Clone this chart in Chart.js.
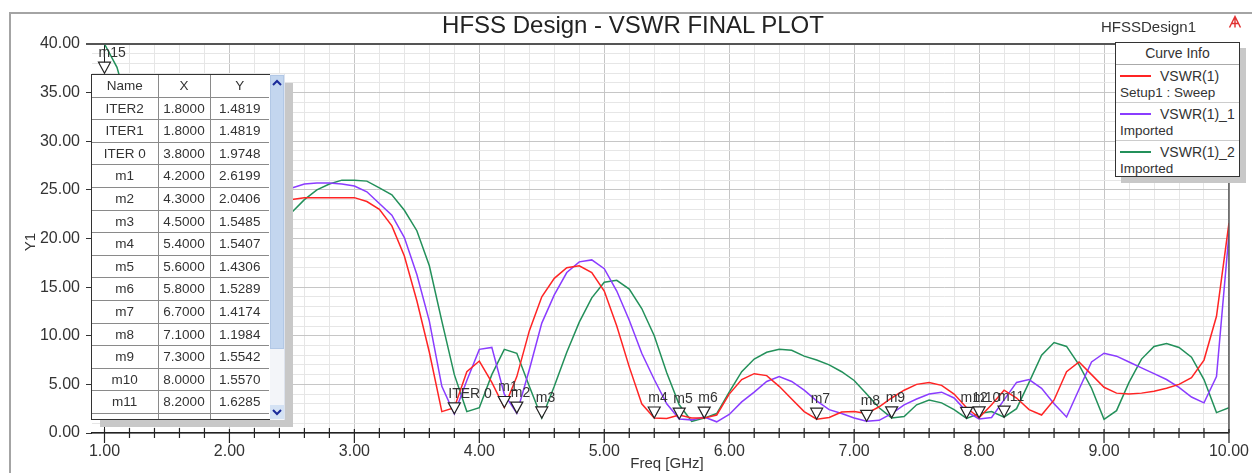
<!DOCTYPE html>
<html>
<head>
<meta charset="utf-8">
<title>HFSS Design - VSWR FINAL PLOT</title>
<script src="https://cdn.jsdelivr.net/npm/chart.js@4.4.1/dist/chart.umd.min.js"></script>
<style>
  body { margin: 0; background: #fff; font-family: "Liberation Sans", Arial, sans-serif; color: #333; }
  #wrap { position: relative; width: 1252px; height: 473px; overflow: hidden; background: #fff; }
  #frame { position: absolute; left: 9px; top: 12px; width: 1300px; height: 500px; border-left: 2px solid #a4a4a4; border-top: 2px solid #a4a4a4; }
  #vswr-chart { position: absolute; left: 0; top: 0; }
  .title { position: absolute; left: 333px; top: 11px; width: 600px; text-align: center; font-size: 24px; color: #222; }
  .design { position: absolute; left: 1101px; top: 18px; font-size: 15px; color: #333; }
  .logo { position: absolute; left: 1228px; top: 15px; }
  .ytitle { position: absolute; left: 10px; top: 232px; width: 40px; height: 20px; line-height: 20px; text-align: center; font-size: 15px; transform: rotate(-90deg); }
  .xtitle { position: absolute; left: 567px; top: 454px; width: 200px; text-align: center; font-size: 15px; }
  .shadow { position: absolute; background: #c8c8c8; }
  #table-box { position: absolute; left: 91px; top: 74px; width: 180px; height: 346px; box-sizing: border-box; border: 1.5px solid #333; background: #fff; overflow: hidden; }
  #table-box table { border-collapse: collapse; border-style: hidden; table-layout: fixed; width: 177px; font-size: 13.5px; color: #333; }
  #table-box td { border: 1px solid #8a8a8a; padding: 0; height: 21.6px; text-align: center; line-height: 1; }
  #scroll { position: absolute; left: 270px; top: 74px; width: 15px; height: 346px; background: #f3f5f9; border-right: 1px solid #dde3ee; box-sizing: border-box; }
  #thumb { position: absolute; left: 0; top: 1px; width: 14px; height: 274px; background: #c3d6ef; border: 1px solid #b2c8e6; box-sizing: border-box; }
  #down-btn { position: absolute; left: 0; bottom: 1px; width: 14px; height: 14px; background: #d4e2f4; }
  #legend-box { position: absolute; left: 1115px; top: 42px; width: 125px; height: 135px; box-sizing: border-box; border: 1.5px solid #333; background: #fff; font-size: 13.5px; color: #333; }
  .lg-head { height: 21px; line-height: 21px; text-align: center; font-size: 14px; border-bottom: 1px solid #aaa; }
  .lg-row { position: relative; height: 37px; border-bottom: 1px solid #ccc; }
  .lg-row:last-child { border-bottom: none; }
  .lg-line { position: absolute; left: 4px; top: 10px; width: 31px; height: 2px; }
  .lg-name { position: absolute; left: 44px; top: 3px; font-size: 14px; }
  .lg-sub { position: absolute; left: 4px; top: 20px; }
</style>
</head>
<body>
<div id="wrap">
  <div id="frame"></div>
  <canvas id="vswr-chart" width="1252" height="473"></canvas>
  <div class="title">HFSS Design - VSWR FINAL PLOT</div>
  <div class="design">HFSSDesign1</div>
  <svg class="logo" width="14" height="14"><path d="M1.5 12.5 L7 1.5 L12.5 12.5 M4 8.5 H10 M7 1.5 V12.5" stroke="#e03030" stroke-width="1.4" fill="none"/></svg>
  <div class="ytitle">Y1</div>
  <div class="xtitle">Freq [GHz]</div>

  <div class="shadow" style="left:100px; top:83px; width:193px; height:344px;"></div>
  <div id="table-box">
    <table>
      <colgroup><col style="width:66px"><col style="width:52px"><col style="width:59px"></colgroup>
      <tbody id="marker-rows"><tr><td>Name</td><td>X</td><td>Y</td></tr></tbody>
    </table>
  </div>
  <div id="scroll">
    <div id="thumb">
      <svg width="12" height="10" style="position:absolute;left:0;top:2px"><path d="M2 7 L6 3 L10 7" stroke="#1a2a9a" stroke-width="2" fill="none"/></svg>
    </div>
    <div id="down-btn">
      <svg width="14" height="12" style="position:absolute;left:0;top:2px"><path d="M3 3 L7 7 L11 3" stroke="#1a2a9a" stroke-width="2" fill="none"/></svg>
    </div>
  </div>

  <div class="shadow" style="left:1121px; top:48px; width:125px; height:135px;"></div>
  <div id="legend-box">
    <div class="lg-head">Curve Info</div>
    <div class="lg-row"><div class="lg-line" style="background:#ff2424"></div><div class="lg-name">VSWR(1)</div><div class="lg-sub">Setup1 : Sweep</div></div>
    <div class="lg-row"><div class="lg-line" style="background:#8a3cff"></div><div class="lg-name">VSWR(1)_1</div><div class="lg-sub">Imported</div></div>
    <div class="lg-row"><div class="lg-line" style="background:#23905a"></div><div class="lg-name">VSWR(1)_2</div><div class="lg-sub">Imported</div></div>
  </div>
</div>

<script>
const freqGHz = [
  1.0, 1.1, 1.2, 1.3, 1.4, 1.5, 1.6, 1.7, 1.8, 1.9,
  2.0, 2.1, 2.2, 2.3, 2.4, 2.5, 2.6, 2.7, 2.8, 2.9,
  3.0, 3.1, 3.2, 3.3, 3.4, 3.5, 3.6, 3.7, 3.8, 3.9,
  4.0, 4.1, 4.2, 4.3, 4.4, 4.5, 4.6, 4.7, 4.8, 4.9,
  5.0, 5.1, 5.2, 5.3, 5.4, 5.5, 5.6, 5.7, 5.8, 5.9,
  6.0, 6.1, 6.2, 6.3, 6.4, 6.5, 6.6, 6.7, 6.8, 6.9,
  7.0, 7.1, 7.2, 7.3, 7.4, 7.5, 7.6, 7.7, 7.8, 7.9,
  8.0, 8.1, 8.2, 8.3, 8.4, 8.5, 8.6, 8.7, 8.8, 8.9,
  9.0, 9.1, 9.2, 9.3, 9.4, 9.5, 9.6, 9.7, 9.8, 9.9,
  10.0
];

// VSWR(1) - Setup1 : Sweep
const vswrSetup1 = [
  18, 14, 10, 6.5, 4, 2.5, 1.8, 1.6, 1.48, 3,
  7, 12, 17, 21, 23.8, 24.0, 24.2, 24.2, 24.2, 24.2,
  24.2, 23.8, 23.0, 21.3, 18.2, 13.6, 8.3, 2.2, 2.6, 6.3,
  7.4, 5.2, 2.62, 5.8, 10.5, 14.0, 15.9, 17.0, 17.2, 16.5,
  14.6, 11.0, 6.8, 3.0, 1.54, 1.5, 1.85, 1.55, 1.53, 1.85,
  4.0, 5.5, 6.1, 5.9, 4.8, 3.5, 2.2, 1.42, 1.6, 2.15,
  2.2, 2.0, 2.7, 3.6, 4.4, 5.0, 5.2, 4.9, 4.0, 2.6,
  1.56, 2.9, 4.4, 3.6, 2.4, 1.85, 3.4, 6.3, 7.3, 6.0,
  4.7, 4.1, 4.0, 4.1, 4.3, 4.6, 5.0, 5.7, 7.5, 12.0,
  21.6
];

// VSWR(1)_1 - Imported
const vswrImported1 = [
  12, 9, 6, 4, 2.5, 1.8, 1.6, 1.5, 1.48, 4,
  9, 15, 20, 23, 24.6, 25.2, 25.6, 25.7, 25.7, 25.6,
  25.4, 24.8, 23.6, 22.4, 20.1, 16.3, 11.5, 4.8, 1.97, 5.4,
  8.6, 8.8, 4.0, 2.04, 6.5, 11.3, 14.2, 16.5, 17.6, 17.8,
  16.9, 14.6, 11.6, 8.2, 5.5, 3.0, 1.43, 1.35, 1.65, 1.15,
  1.9, 3.2, 4.2, 5.3, 5.8, 5.3, 4.4, 3.3, 2.4, 2.0,
  1.55, 1.2, 1.3, 2.0, 2.9, 3.5, 4.0, 4.2, 3.6, 2.2,
  1.45, 1.6, 3.4, 5.2, 5.5, 4.6, 3.0, 1.65, 4.5, 7.3,
  8.2, 7.9, 7.3, 6.7, 6.1, 5.5, 4.7, 3.7, 3.1, 5.8,
  20.5
];

// VSWR(1)_2 - Imported
const vswrImported2 = [
  40.0, 37.6, 33, 27, 20, 13, 7, 3.5, 2.2, 4.5,
  9, 13.5, 17, 19.3, 20.8, 22.7, 24.0, 25.0, 25.6, 26.0,
  26.0, 25.9, 25.2, 24.5, 22.9, 20.8, 17.2, 11.5, 6.0, 2.2,
  2.6, 6.0, 8.6, 8.2, 4.8, 1.55, 4.8, 8.3, 11.4, 13.9,
  15.5, 15.7, 14.8, 12.8, 10.0, 6.2, 2.9, 1.2, 1.53, 2.0,
  4.2, 6.3, 7.6, 8.3, 8.6, 8.5, 7.9, 7.5, 7.0, 6.3,
  5.4, 4.0, 2.6, 1.55, 1.7, 2.9, 3.4, 3.1, 2.4, 1.5,
  2.0, 2.2, 1.63, 2.5, 5.2, 8.0, 9.3, 8.9, 7.0, 4.6,
  1.4, 2.3, 5.2, 7.6, 8.9, 9.2, 8.8, 7.8, 5.5, 2.1,
  2.6
];

const seriesNames = ["VSWR(1)", "VSWR(1)_1", "VSWR(1)_2"];
const seriesColors = ["#ff2424", "#8a3cff", "#23905a"];

const xTickLabels = ["1.00", "2.00", "3.00", "4.00", "5.00", "6.00", "7.00", "8.00", "9.00", "10.00"];
const yTickLabels = ["0.00", "5.00", "10.00", "15.00", "20.00", "25.00", "30.00", "35.00", "40.00"];

const markerNames = ["ITER2", "ITER1", "ITER 0", "m1", "m2", "m3", "m4", "m5", "m6", "m7", "m8", "m9", "m10", "m11", "m12", "m15"];
const markerX = [1.8, 1.8, 3.8, 4.2, 4.3, 4.5, 5.4, 5.6, 5.8, 6.7, 7.1, 7.3, 8.0, 8.2, 7.9, 1.0];
const markerY = [1.4819, 1.4819, 1.9748, 2.6199, 2.0406, 1.5485, 1.5407, 1.4306, 1.5289, 1.4174, 1.1984, 1.5542, 1.5570, 1.6285, 1.5100, 37.0];

Chart.defaults.font.family = '"Liberation Sans", Arial, sans-serif';

function isWhole(v, step) {
  return Math.abs(v / step - Math.round(v / step)) < 1e-6;
}

function buildMarkerTable() {
  const body = document.getElementById("marker-rows");
  markerNames.slice(0, 15).forEach((name, i) => {
    body.innerHTML += `<tr><td>${name}</td><td>${markerX[i].toFixed(4)}</td><td>${markerY[i].toFixed(4)}</td></tr>`;
  });
}

// HFSS style down-pointing markers with labels
const markerPlugin = {
  id: "hfssMarkers",
  afterDatasetsDraw(chart) {
    const { ctx, chartArea: a, scales: { x, y } } = chart;
    ctx.save();
    ctx.beginPath();
    ctx.rect(a.left, a.top, a.width, a.height);
    ctx.clip();
    ctx.font = '14px "Liberation Sans", Arial, sans-serif';
    ctx.textAlign = "left";
    ctx.textBaseline = "bottom";
    markerNames.forEach((name, i) => {
      const px = x.getPixelForValue(markerX[i]);
      const py = y.getPixelForValue(markerY[i]);
      ctx.fillStyle = "#333";
      ctx.fillText(name, px - 6, py - 13);
      ctx.beginPath();
      ctx.moveTo(px - 6, py - 11);
      ctx.lineTo(px + 6, py - 11);
      ctx.lineTo(px, py);
      ctx.closePath();
      ctx.fillStyle = "#fff";
      ctx.fill();
      ctx.strokeStyle = "#222";
      ctx.lineWidth = 1.2;
      ctx.stroke();
    });
    ctx.restore();
  },
};

// top / right frame and the ticks crossing the frequency axis
const framePlugin = {
  id: "hfssFrame",
  afterDraw(chart) {
    const { ctx, chartArea: a, scales: { x } } = chart;
    ctx.save();
    ctx.strokeStyle = "#555";
    ctx.lineWidth = 2;
    ctx.beginPath();
    ctx.moveTo(a.left - 6, a.top);
    ctx.lineTo(a.right, a.top);
    ctx.stroke();
    ctx.lineWidth = 1.5;
    ctx.beginPath();
    ctx.moveTo(a.right, a.top);
    ctx.lineTo(a.right, a.bottom);
    ctx.stroke();
    ctx.strokeStyle = "#222";
    ctx.lineWidth = 1.2;
    x.ticks.forEach((t) => {
      const px = x.getPixelForValue(t.value);
      const major = isWhole(t.value, 1);
      ctx.beginPath();
      ctx.moveTo(px, a.bottom - (major ? 4 : 5));
      ctx.lineTo(px, a.bottom + (major ? 10 : 5));
      ctx.stroke();
    });
    ctx.restore();
  },
};

function initializeChart() {
  const series = [vswrSetup1, vswrImported1, vswrImported2];
  const ctx = document.getElementById("vswr-chart").getContext("2d");
  new Chart(ctx, {
    type: "line",
    data: {
      datasets: series.map((values, i) => ({
        label: seriesNames[i],
        data: freqGHz.map((f, j) => ({ x: f, y: values[j] })),
        borderColor: seriesColors[i],
        borderWidth: 1.5,
        pointRadius: 0,
        tension: 0,
        fill: false,
      })),
    },
    options: {
      responsive: false,
      animation: false,
      layout: { padding: { top: 44, right: 23, bottom: 0, left: 0 } },
      plugins: { legend: { display: false }, tooltip: { enabled: false } },
      scales: {
        x: {
          type: "linear",
          min: 0.9,
          max: 10,
          afterBuildTicks: (scale) => {
            const ticks = [];
            for (let i = 0; i <= 45; i++) ticks.push({ value: Math.round((1 + i * 0.2) * 10) / 10 });
            scale.ticks = ticks;
          },
          afterFit: (scale) => { scale.height = 40; },
          ticks: {
            autoSkip: false,
            maxRotation: 0,
            padding: 3,
            color: "#333",
            font: { size: 16 },
            callback: (v) => (isWhole(v, 1) ? xTickLabels[Math.round(v) - 1] : ""),
          },
          grid: {
            color: (c) => {
              const v = c.tick ? c.tick.value : 0;
              if (Math.abs(v - 1) < 1e-6) return "#1e1e1e";
              return isWhole(v, 1) ? "#c6c6c6" : "#e6e6e6";
            },
            lineWidth: 1,
            tickLength: 6,
            tickColor: "rgba(0,0,0,0)",
          },
          border: { display: true, color: "#222", width: 1.5 },
        },
        y: {
          min: 0,
          max: 40,
          afterBuildTicks: (scale) => {
            const ticks = [];
            for (let v = 0; v <= 40; v++) ticks.push({ value: v });
            scale.ticks = ticks;
          },
          afterFit: (scale) => { scale.width = 92; },
          ticks: {
            autoSkip: false,
            padding: 6,
            color: "#333",
            font: { size: 16 },
            callback: (v) => (isWhole(v, 5) ? yTickLabels[Math.round(v / 5)] : ""),
          },
          grid: {
            color: (c) => (c.tick && isWhole(c.tick.value, 5) ? "#c6c6c6" : "#e6e6e6"),
            lineWidth: 1,
            tickLength: 6,
            tickColor: (c) => (c.tick && isWhole(c.tick.value, 5) ? "#333" : "rgba(0,0,0,0)"),
          },
          border: { display: false },
        },
      },
    },
    plugins: [markerPlugin, framePlugin],
  });
}

buildMarkerTable();
initializeChart();
</script>
</body>
</html>
